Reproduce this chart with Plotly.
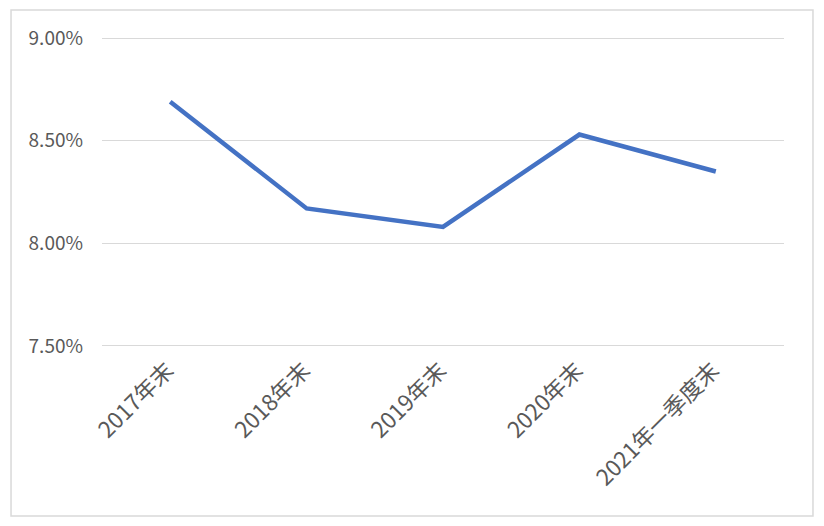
import plotly.graph_objects as go

categories = ["2017年末", "2018年末", "2019年末", "2020年末", "2021年一季度末"]
values = [8.69, 8.17, 8.08, 8.53, 8.35]
y_ticks = [7.5, 8.0, 8.5, 9.0]
y_tick_labels = ["7.50%", "8.00%", "8.50%", "9.00%"]

font_family = "Noto Sans CJK SC, Noto Sans, sans-serif"

fig = go.Figure()
fig.add_trace(go.Scatter(
    x=categories, y=values, mode="lines",
    line=dict(color="#4472C4", width=4.5),
    hoverinfo="skip",
))

fig.update_layout(
    width=816, height=518,
    margin=dict(l=94, r=40, t=28, b=178),
    paper_bgcolor="white", plot_bgcolor="white",
    showlegend=False,
    font=dict(family=font_family, color="#595959", size=18),
    xaxis=dict(
        type="category", tickangle=-45, showgrid=False, showline=False,
        zeroline=False, ticks="", tickfont=dict(size=22.5, color="#595959"),
        range=[-0.5, 4.5], ticklabelstandoff=4, ticklabelshift=-3,
    ),
    yaxis=dict(
        range=[7.49, 9.01], tickvals=y_ticks, ticktext=y_tick_labels,
        showgrid=True, gridcolor="#d9d9d9", gridwidth=1.3,
        zeroline=False, showline=False, ticks="",
        tickfont=dict(size=19, color="#595959"),
        ticklabelstandoff=18,
    ),
    shapes=[dict(
        type="rect", xref="paper", yref="paper",
        x0=-0.1334, x1=1.0425, y0=-0.5385, y1=1.0833,
        line=dict(color="#d9d9d9", width=1.5), fillcolor="rgba(0,0,0,0)",
        layer="below",
    )],
)

fig.write_html("out.html")
